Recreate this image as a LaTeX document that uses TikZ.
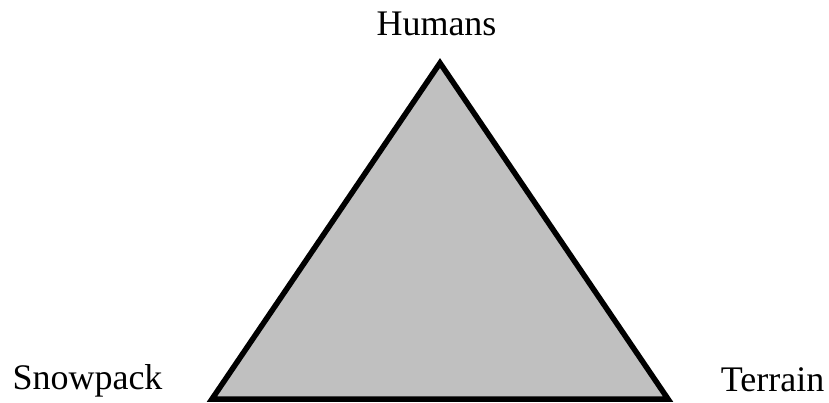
\documentclass[tikz,border=0pt]{standalone}
\usepackage{fontspec}
\setmainfont{Liberation Serif}
\definecolor{trifill}{HTML}{C0C0C0}
\begin{document}
\begin{tikzpicture}[x=1pt,y=-1pt,
  lbl/.style={font=\fontsize{36}{40}\selectfont, inner sep=0pt, anchor=base},
  tri/.style={draw=black, line width=5.5pt, fill=trifill, line join=miter}]
\useasboundingbox (0,0) rectangle (829,402);
\coordinate (H) at (440,63);
\coordinate (S) at (212,399);
\coordinate (T) at (668,399);
\draw[tri] (H) -- (S) -- (T) -- cycle;
\node[lbl] (hl) at (436.5,35) {Humans};
\node[lbl] (sl) at (87.5,389) {Snowpack};
\node[lbl] (tl) at (772.5,391) {Terrain};
\end{tikzpicture}
\end{document}
